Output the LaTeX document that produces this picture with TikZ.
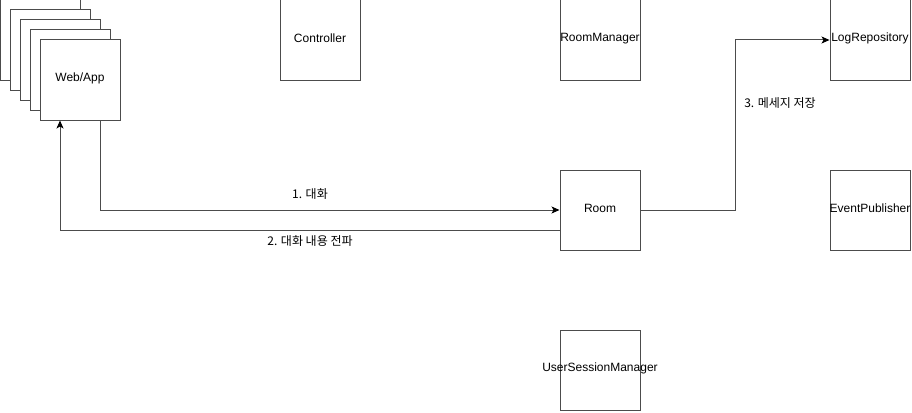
\documentclass[tikz,border=0pt]{standalone}
\usepackage{fontspec}
\setmainfont{Liberation Sans}
\newfontfamily\kr{Noto Sans CJK KR}
\usetikzlibrary{arrows.meta}
\newcommand\nowidth[1]{\makebox[0pt]{\raisebox{1.5pt}[\height][\depth]{#1}}}

\begin{document}
\begin{tikzpicture}[x=1pt,y=-1pt,
  box/.style={draw=black!70, line width=1pt, fill=white, minimum width=80pt,
    minimum height=80pt, inner sep=0pt, font=\fontsize{12}{14}\selectfont},
  flow/.style={draw=black!70, line width=1pt,
    -{Stealth[length=8pt,width=7pt,inset=2pt,black]}},
  lbl/.style={inner sep=1pt, font=\kr\fontsize{12}{14}\selectfont}]
\useasboundingbox (0,0) rectangle (912,412);
% stacked clients
\foreach \s in {0,10,20,30}
  \draw [draw=black!70, line width=1pt, fill=white] (\s,\s) rectangle ++(80,80);
\node [box] (webapp) at (80,80) {\nowidth{Web/App}};
% components
\node [box] (controller) at (320,40) {\nowidth{Controller}};
\node [box] (roommgr) at (600,40) {\nowidth{RoomManager}};
\node [box] (logrepo) at (870,40) {\nowidth{LogRepository}};
\node [box] (room) at (600,210) {\nowidth{Room}};
\node [box] (eventpub) at (870,210) {\nowidth{EventPublisher}};
\node [box] (usersess) at (600,370) {\nowidth{UserSessionManager}};
% messages
\draw [flow] ([xshift=20pt]webapp.south) |- (room.west);
\draw [flow] ([yshift=-20pt]room.west) -| ([xshift=-20pt]webapp.south);
\draw [flow] (room.east) -- ++(95,0) |- (logrepo.west);
\node [lbl] (lbltalk) at (310,194) {1. 대화};
\node [lbl] (lblspread) at (310,241) {2. 대화 내용 전파};
\node [lbl] (lblsave) at (780,103) {3. 메세지 저장};
\end{tikzpicture}
\end{document}
